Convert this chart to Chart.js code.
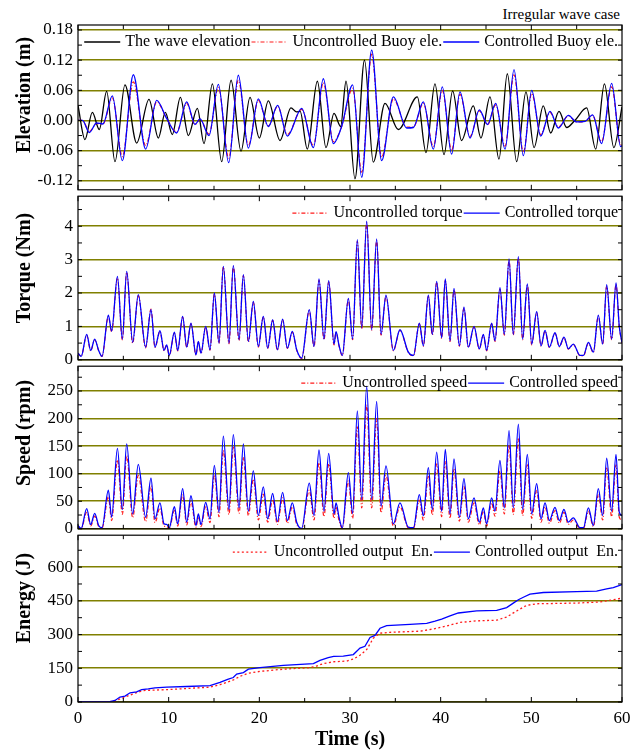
<!DOCTYPE html>
<html>
<head>
<meta charset="utf-8">
<script src="https://cdn.jsdelivr.net/npm/chart.js@4"></script>
<style>
body{margin:0;background:#fff;width:638px;height:752px;position:relative;overflow:hidden;font-family:"Liberation Serif",serif}
canvas{position:absolute;left:0}
#note{position:absolute;right:18px;top:6px;font-size:15px;line-height:16px;color:#000}
</style>
</head>
<body>
<div id="note">Irregular wave case</div>
<canvas id="c1"></canvas>
<canvas id="c2"></canvas>
<canvas id="c3"></canvas>
<canvas id="c4"></canvas>
<script>
// values (peaks / troughs)
var timeTicks = [0, 10, 20, 30, 40, 50, 60];
var elevTicks = [-0.12, -0.06, 0, 0.06, 0.12, 0.18];
var torqueTicks = [0, 1, 2, 3, 4];
var speedTicks = [0, 50, 100, 150, 200, 250];
var energyTicks = [0, 150, 300, 450, 600];

var waveTime = [0, 0.77, 1.58, 2.35, 3.16, 4.08, 5.18, 6.47, 7.83, 8.86,
  9.63, 10.40, 11.29, 12.17, 13.16, 13.90, 14.82, 15.85, 16.88, 17.98,
  18.97, 20.0, 20.99, 22.28, 23.49, 24.1, 24.5, 25.29, 26.40, 27.35,
  28.24, 28.97, 29.56, 30.55, 31.6, 32.57, 33.86, 35.33, 37.43, 38.38,
  39.37, 40.37, 41.32, 42.3, 43.6, 44.44, 45.44, 46.43, 47.35, 48.38,
  49.41, 50.3, 51.32, 52.13, 53.05, 53.9, 54.8, 56.1, 57.1, 58.06,
  59.1, 60];
var waveElev = [0.03, -0.038, 0.016, -0.018, 0.058, -0.082, 0.071, -0.045, 0.042, -0.035,
  0.016, -0.028, 0.046, -0.03, 0.024, -0.046, 0.073, -0.082, 0.08, -0.061,
  0.046, -0.035, 0.039, -0.04, 0.025, 0.017, 0.018, -0.057, 0.078, -0.054,
  0.014, -0.012, 0.078, -0.116, 0.12, -0.083, 0.034, -0.018, 0.047, -0.064,
  0.073, -0.068, 0.059, -0.04, 0.029, -0.035, 0.047, -0.077, 0.093, -0.082,
  0.057, -0.054, 0.029, -0.025, 0.018, -0.014, 0.0, 0.025, -0.057, 0.073,
  -0.054, 0.027];

var buoyTime = [0, 0.5, 1.25, 2.05, 2.75, 3.79, 4.89, 6.10, 7.46, 8.68,
  9.78, 10.88, 11.99, 12.90, 13.46, 14.45, 15.48, 16.62, 17.68, 18.79,
  19.89, 20.99, 22.02, 23.09, 24.67, 25.96, 27.06, 28.16, 29.08, 30.29,
  31.29, 32.39, 33.49, 34.78, 36.25, 36.99, 38.09, 39.19, 40.18, 41.21,
  42.13, 43.24, 44.26, 45.18, 46.07, 47.1, 48.09, 49.12, 50.04, 51.03,
  52.06, 52.98, 54.08, 55.0, 55.92, 56.76, 57.75, 58.86, 59.85, 60];
var buoyCtrl = [0, 0, -0.024, -0.005, -0.007, 0.049, -0.08, 0.091, -0.057, 0.04,
  0.004, -0.025, 0.037, -0.008, 0.003, -0.03, 0.072, -0.084, 0.09, -0.055,
  0.043, -0.012, 0.03, -0.031, 0.024, -0.054, 0.083, -0.046, -0.012, 0.071,
  -0.113, 0.14, -0.08, 0.047, -0.015, -0.014, 0.037, -0.057, 0.067, -0.067,
  0.057, -0.035, 0.021, -0.008, 0.034, -0.057, 0.101, -0.07, 0.06, -0.031,
  0.018, -0.015, 0.01, -0.003, -0.002, 0.011, -0.046, 0.074, -0.052, -0.05];
var buoyUnc = [0, 0, -0.022, -0.006, -0.007, 0.045, -0.072, 0.077, -0.05, 0.037,
  0.004, -0.023, 0.034, -0.008, 0.002, -0.027, 0.066, -0.075, 0.08, -0.05,
  0.04, -0.011, 0.028, -0.028, 0.022, -0.05, 0.075, -0.042, -0.012, 0.064,
  -0.103, 0.132, -0.073, 0.043, -0.013, -0.013, 0.034, -0.052, 0.06, -0.06,
  0.052, -0.032, 0.019, -0.008, 0.031, -0.051, 0.091, -0.064, 0.054, -0.028,
  0.016, -0.013, 0.009, -0.003, -0.002, 0.01, -0.042, 0.067, -0.048, -0.046];

var pto = [0, 0.35, 0.96, 1.4, 1.84, 2.28, 2.65, 3.35, 3.71, 4.35,
  4.89, 5.37, 6.03, 6.65, 7.46, 8.05, 8.49, 9.04, 9.49, 9.78,
  10.07, 10.63, 11.0, 11.54, 11.99, 12.46, 13.01, 13.27, 13.57, 14.08,
  14.56, 15.04, 15.55, 16.03, 16.65, 17.13, 17.76, 18.24, 18.79, 19.34,
  19.89, 20.44, 20.92, 21.47, 21.99, 22.57, 23.09, 23.64, 24.12, 24.67,
  25.51, 26.03, 26.58, 27.13, 27.65, 28.24, 28.46, 28.8, 29.15, 29.82,
  30.29, 30.81, 31.29, 31.84, 32.39, 32.94, 33.42, 33.97, 34.78, 35.51,
  36.43, 37.0, 37.65, 38.09, 38.64, 39.08, 39.56, 40.11, 40.51, 41.03,
  41.47, 42.06, 42.57, 43.05, 43.68, 44.26, 44.71, 45.07, 45.62, 45.99,
  46.54, 47.02, 47.54, 48.01, 48.57, 49.04, 49.56, 50.04, 50.59, 51.07,
  51.51, 51.99, 52.61, 53.09, 53.6, 54.08, 54.63, 55.37, 55.75, 56.29,
  56.84, 57.39, 57.87, 58.31, 58.86, 59.34, 59.7, 60];
var torqueCtrl = [0.2, 0.1, 0.76, 0.28, 0.62, 0.28, 0.1, 1.34, 0.86, 2.5,
  0.62, 2.65, 0.52, 1.95, 0.38, 1.5, 0.38, 0.87, 0.28, 0.45,
  0.13, 0.83, 0.28, 1.3, 0.38, 1.1, 0.15, 0.55, 0.2, 1.0,
  0.3, 2.0, 0.5, 2.8, 0.5, 2.82, 0.6, 2.55, 0.55, 1.75,
  0.4, 1.3, 0.35, 1.2, 0.3, 1.22, 0.35, 0.85, 0.3, 0.05,
  1.5, 0.4, 2.42, 0.62, 2.37, 0.47, 0.84, 0.42, 0.13, 1.84,
  0.62, 3.6, 0.95, 4.15, 0.9, 3.62, 0.76, 1.94, 0.28, 0.9,
  0.23, 0.13, 1.1, 0.42, 1.94, 0.76, 2.35, 0.66, 2.42, 0.57,
  2.14, 0.42, 1.58, 0.38, 1.0, 0.33, 0.76, 0.28, 1.1, 0.57,
  2.16, 0.76, 3.02, 0.76, 3.09, 0.62, 2.27, 0.47, 1.44, 0.42,
  0.88, 0.38, 0.81, 0.4, 0.68, 0.33, 0.47, 0.13, 0.13, 0.52,
  0.23, 1.34, 0.47, 2.25, 0.62, 2.3, 1.0, 0.52];
var torqueUnc = [0.2, 0.1, 0.74, 0.27, 0.6, 0.27, 0.1, 1.3, 0.84, 2.45,
  0.6, 2.62, 0.5, 1.92, 0.36, 1.52, 0.37, 0.85, 0.27, 0.44,
  0.12, 0.8, 0.27, 1.28, 0.37, 1.08, 0.14, 0.53, 0.19, 0.98,
  0.29, 1.97, 0.49, 2.78, 0.48, 2.8, 0.58, 2.52, 0.53, 1.72,
  0.38, 1.28, 0.34, 1.18, 0.29, 1.2, 0.34, 0.83, 0.29, 0.04,
  1.47, 0.39, 2.38, 0.6, 2.33, 0.45, 0.82, 0.4, 0.12, 1.8,
  0.6, 3.55, 0.93, 4.1, 0.88, 3.58, 0.74, 1.9, 0.27, 0.88,
  0.22, 0.12, 1.08, 0.41, 1.9, 0.74, 2.32, 0.64, 2.38, 0.55,
  2.1, 0.41, 1.55, 0.37, 0.98, 0.32, 0.74, 0.27, 1.08, 0.55,
  2.12, 0.74, 2.98, 0.74, 3.05, 0.6, 2.23, 0.45, 1.41, 0.41,
  0.86, 0.37, 0.79, 0.39, 0.66, 0.32, 0.46, 0.12, 0.12, 0.5,
  0.22, 1.31, 0.46, 2.21, 0.6, 2.26, 0.98, 0.5];
var speedCtrl = [6, 0.5, 36.6, 7.5, 28, 6, 2, 70, 21, 146,
  35, 154, 27, 117, 21, 92, 18, 47, 9, 8,
  2, 40, 9, 73, 12, 60, 6, 27, 7.5, 48,
  18, 115, 30, 168, 35, 171, 38, 154, 32, 105,
  24, 76, 18, 64, 13, 66, 15, 47, 12, 0.5,
  83, 24, 143, 32, 137, 27, 47, 20, 2, 102,
  28, 214, 53, 259, 53, 231, 41, 114, 9, 47,
  3, 2, 62, 24, 111, 35, 139, 32, 144, 27,
  127, 21, 91, 18, 56, 12, 38, 9, 56, 32,
  124, 38, 178, 38, 190, 35, 135, 27, 82, 18,
  47, 15, 39, 15, 35, 12, 20, 2, 2, 38,
  6, 73, 24, 128, 32, 135, 30, 24];
var speedUnc = [4, 0, 30, 5, 23, 4, 1, 58, 15, 125,
  26, 133, 20, 97, 13, 78, 11, 38, 5, 4,
  1, 33, 5, 62, 7, 50, 3, 22, 4, 40,
  11, 98, 22, 142, 26, 148, 28, 130, 24, 90,
  16, 63, 12, 53, 8, 56, 10, 40, 8, 0,
  70, 16, 120, 22, 118, 19, 40, 14, 1, 87,
  19, 185, 38, 225, 38, 200, 29, 97, 5, 40,
  2, 1, 52, 16, 95, 25, 118, 22, 123, 19,
  108, 14, 77, 12, 47, 7, 32, 5, 47, 23,
  105, 27, 152, 26, 163, 24, 116, 19, 70, 12,
  40, 10, 33, 10, 30, 8, 16, 1, 1, 32,
  4, 62, 16, 110, 22, 116, 21, 16];

var energyCtrlTime = [0, 2, 3.53, 4.08, 4.63, 5.18, 5.74, 6.47, 7.02, 7.76,
  8.49, 9.78, 12.0, 14.56, 15.66, 16.58, 17.13, 17.5, 18.24, 18.79,
  20.07, 22.65, 25.96, 26.69, 27.6, 28.2, 29.26, 30.37, 31.1, 31.65,
  32.21, 32.76, 33.31, 34.04, 36.62, 38.46, 39.38, 40.11, 41.03, 41.95,
  43.97, 46.18, 47.28, 48.01, 48.57, 49.12, 49.85, 51.32, 55.0, 57.2,
  58.31, 59.04, 60];
var energyCtrl = [0, 0.5, 2, 7, 22, 26, 41, 45, 55, 58,
  63, 66, 69, 73, 87, 102, 109, 124, 131, 146,
  153, 163, 171, 185, 197, 203, 204, 211, 240, 248,
  287, 296, 328, 340, 345, 350, 360, 369, 383, 396,
  405, 408, 420, 440, 455, 466, 480, 487, 491, 493,
  503, 509, 522];
var energyUncTime = [0, 2, 3.53, 4.08, 5.18, 6.47, 7.2, 9.78, 14.56, 15.66,
  17.13, 17.87, 18.79, 20.07, 22.65, 25.6, 26.3, 27.06, 28.2, 29.63,
  30.37, 31.1, 31.84, 32.57, 33.31, 34.4, 37.72, 39.19, 40.66, 42.13,
  43.97, 46.18, 47.28, 48.38, 49.49, 50.59, 55.0, 57.57, 59.04, 60];
var energyUnc = [0, 0.5, 1.5, 5, 22, 42, 51, 55, 66, 77,
  98, 114, 128, 136, 146, 153, 160, 171, 179, 182,
  191, 208, 233, 284, 306, 310, 315, 325, 338, 354,
  361, 364, 378, 405, 430, 437, 440, 445, 455, 462];

function pts(t, v) {
    return t.map(function(x, i){ return {x: x, y: v[i]}; });
}

Chart.defaults.font.family = '"Liberation Serif", "Times New Roman", serif';
Chart.defaults.color = '#000';

// frame, inward tick marks, legend and side title
var panelDeco = {
    id: 'panelDeco',
    afterDatasetsDraw: function(chart, args, o) {
        var ctx = chart.ctx, a = chart.chartArea;
        var xs = chart.scales.x, ys = chart.scales.y;
        ctx.save();
        ctx.strokeStyle = '#000';
        ctx.lineWidth = 1;
        ctx.beginPath();
        var i, p, m, step;
        for (i = 0; i < timeTicks.length; i++) {
            p = xs.getPixelForValue(timeTicks[i]);
            ctx.moveTo(p, a.top); ctx.lineTo(p, a.top + 5);
            ctx.moveTo(p, a.bottom); ctx.lineTo(p, a.bottom - 5);
            if (i > 0) {
                m = xs.getPixelForValue((timeTicks[i] + timeTicks[i-1]) / 2);
                ctx.moveTo(m, a.top); ctx.lineTo(m, a.top + 4);
                ctx.moveTo(m, a.bottom); ctx.lineTo(m, a.bottom - 4);
            }
        }
        step = o.ticks[1] - o.ticks[0];
        for (var v = o.ticks[0] - step / 2; v <= ys.max; v += step / 2) {
            if (v < ys.min) continue;
            p = ys.getPixelForValue(v);
            ctx.moveTo(a.left, p); ctx.lineTo(a.left + 4, p);
            ctx.moveTo(a.right, p); ctx.lineTo(a.right - 4, p);
        }
        ctx.stroke();
        ctx.lineWidth = 1.2;
        ctx.strokeRect(a.left, a.top, a.right - a.left, a.bottom - a.top);

        // legend, laid out from the right
        var ds = chart.data.datasets;
        var xr = a.right - 4, yy = a.top + 17;
        ctx.font = '16px "Liberation Serif"';
        ctx.textBaseline = 'middle';
        ctx.textAlign = 'left';
        for (i = ds.length - 1; i >= 0; i--) {
            var w = ctx.measureText(ds[i].label).width;
            ctx.fillStyle = '#000';
            ctx.fillText(ds[i].label, xr - w, yy);
            xr -= w + 5;
            ctx.beginPath();
            ctx.setLineDash(ds[i].borderDash || []);
            ctx.strokeStyle = ds[i].borderColor;
            ctx.lineWidth = ds[i].borderWidth;
            ctx.moveTo(xr - 36, yy); ctx.lineTo(xr, yy);
            ctx.stroke();
            ctx.setLineDash([]);
            xr -= 37;
        }

        // y title
        ctx.translate(25, o.titleY);
        ctx.rotate(-Math.PI / 2);
        ctx.font = 'bold 20px "Liberation Serif"';
        ctx.textAlign = 'center';
        ctx.fillStyle = '#000';
        ctx.fillText(o.title, 0, 0);
        ctx.restore();
    }
};

function makePanel(id, cfg) {
    var cv = document.getElementById(id);
    cv.width = 638;
    cv.height = cfg.height;
    cv.style.top = cfg.top + 'px';
    var xscale = {
        type: 'linear', min: 0, max: 60, display: false
    };
    if (cfg.showX) {
        xscale = {
            type: 'linear', min: 0, max: 60, display: true,
            afterBuildTicks: function(s){ s.ticks = timeTicks.map(function(v){ return {value: v}; }); },
            afterFit: function(s){ s.height = 50; },
            grid: {display: false, drawTicks: false},
            border: {display: false},
            ticks: {font: {size: 17}, padding: 6, maxRotation: 0, autoSkip: false},
            title: {display: true, text: 'Time (s)', font: {size: 20, weight: 'bold'}, padding: {top: 0, bottom: 0}}
        };
    }
    return new Chart(cv, {
        type: 'line',
        data: {datasets: cfg.datasets},
        options: {
            responsive: false,
            animation: false,
            layout: {padding: {left: 0, right: 16, top: cfg.padTop, bottom: cfg.padBottom}},
            elements: {point: {radius: 0}, line: {cubicInterpolationMode: 'monotone'}},
            plugins: {
                legend: {display: false},
                tooltip: {enabled: false},
                panelDeco: {title: cfg.title, titleY: cfg.titleY - cfg.top, ticks: cfg.ticks}
            },
            scales: {
                x: xscale,
                y: {
                    type: 'linear', min: cfg.min, max: cfg.max,
                    afterBuildTicks: function(s){ s.ticks = cfg.ticks.map(function(v){ return {value: v}; }); },
                    afterFit: function(s){ s.width = 78; },
                    grid: {color: '#808000', lineWidth: 1.6, drawTicks: false},
                    border: {display: false},
                    ticks: {font: {size: 17}, padding: 5, callback: cfg.fmt}
                }
            }
        },
        plugins: [panelDeco]
    });
}

var RED = '#ff1a1a', BLUE = '#0000ff';

makePanel('c1', {
    top: 0, height: 205, padTop: 25, padBottom: 12,
    min: -0.138, max: 0.19, ticks: elevTicks,
    fmt: function(v){ return v.toFixed(2); },
    title: 'Elevation (m)', titleY: 95,
    datasets: [
        {label: 'The wave elevation', data: pts(waveTime, waveElev), borderColor: '#000', borderWidth: 1.3, order: 2},
        {label: 'Uncontrolled Buoy ele.', data: pts(buoyTime, buoyUnc), borderColor: RED, borderWidth: 1.2, borderDash: [4, 2, 1, 2], order: 1},
        {label: 'Controlled Buoy ele.', data: pts(buoyTime, buoyCtrl), borderColor: BLUE, borderWidth: 1.3, order: 0}
    ]
});

makePanel('c2', {
    top: 181, height: 194, padTop: 12, padBottom: 12,
    min: 0, max: 4.9, ticks: torqueTicks,
    fmt: function(v){ return v; },
    title: 'Torque (Nm)', titleY: 268,
    datasets: [
        {label: 'Uncontrolled torque', data: pts(pto, torqueUnc), borderColor: RED, borderWidth: 1.2, borderDash: [4, 2, 1, 2], order: 1},
        {label: 'Controlled torque', data: pts(pto, torqueCtrl), borderColor: BLUE, borderWidth: 1.3, order: 0}
    ]
});

makePanel('c3', {
    top: 351, height: 193, padTop: 12, padBottom: 12,
    min: 0, max: 295, ticks: speedTicks,
    fmt: function(v){ return v; },
    title: 'Speed (rpm)', titleY: 433,
    datasets: [
        {label: 'Uncontrolled speed', data: pts(pto, speedUnc), borderColor: RED, borderWidth: 1.2, borderDash: [4, 2, 1, 2], order: 1},
        {label: 'Controlled speed', data: pts(pto, speedCtrl), borderColor: BLUE, borderWidth: 1.3, order: 0}
    ]
});

makePanel('c4', {
    top: 520, height: 232, padTop: 12, padBottom: 0, showX: true,
    min: 0, max: 742, ticks: energyTicks,
    fmt: function(v){ return v; },
    title: 'Energy (J)', titleY: 598,
    datasets: [
        {label: 'Uncontrolled output  En.', data: pts(energyUncTime, energyUnc), borderColor: RED, borderWidth: 1.3, borderDash: [2, 2.5], cubicInterpolationMode: 'default', tension: 0, order: 1},
        {label: 'Controlled output  En.', data: pts(energyCtrlTime, energyCtrl), borderColor: BLUE, borderWidth: 1.3, cubicInterpolationMode: 'default', tension: 0, order: 0}
    ]
});
</script>
</body>
</html>
